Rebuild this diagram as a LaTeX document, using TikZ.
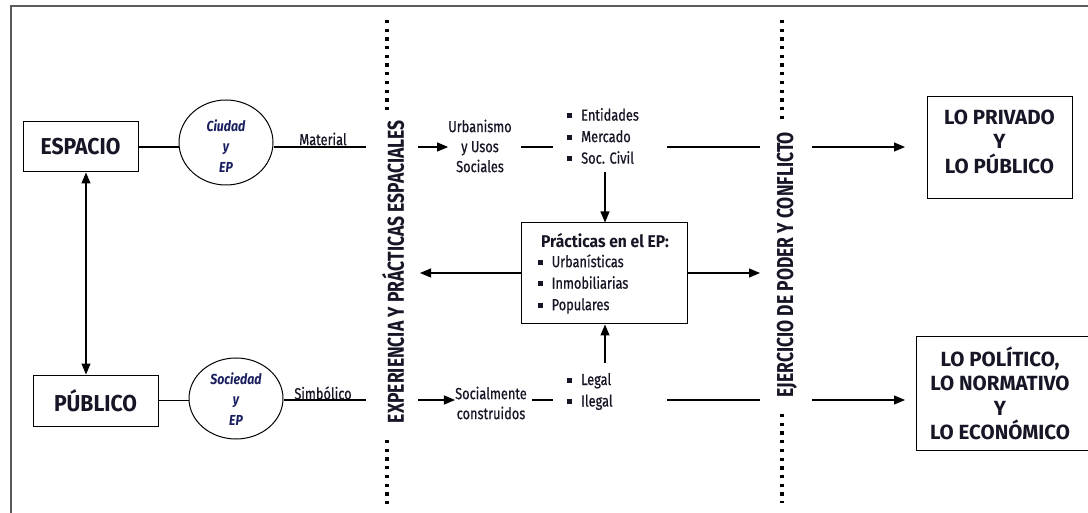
\documentclass[tikz,border=0pt]{standalone}
\usepackage{fontspec}
\setmainfont{Fira Sans}
\newfontfamily\fbig{Fira Sans}[FakeStretch=0.92]
\newfontfamily\fboxtxt{Fira Sans}[FakeStretch=1.0]
\newfontfamily\fsm{Fira Sans}[FakeStretch=0.8, FakeBold=0.6]
\newfontfamily\fit{Fira Sans}[FakeStretch=0.85]
\usetikzlibrary{arrows.meta,shapes.geometric}
\definecolor{ink}{RGB}{22,22,38}
\definecolor{navy}{RGB}{25,30,95}
\definecolor{framec}{RGB}{90,90,90}
\newcommand{\sqb}{\raisebox{2.5pt}{\rule{5pt}{5pt}}\hspace{9pt}}
\tikzset{
  box/.style={draw, line width=1pt, fill=white, inner sep=0},
  circ/.style={ellipse, draw, line width=1pt, inner sep=0},
  con/.style={line width=1.1pt},
  arr/.style={con, -{Triangle[length=11pt,width=9pt]}},
  darr/.style={con, {Triangle[length=11pt,width=9pt]}-{Triangle[length=11pt,width=9pt]}},
  dotline/.style={line width=3.3pt, dash pattern=on 3.3pt off 5.4pt},
  bigtxt/.style={font=\fbig\bfseries\fontsize{23}{23}\selectfont, text=ink},
  boxtxt/.style={font=\fboxtxt\bfseries\fontsize{20.5}{24.5}\selectfont, text=ink, align=center, inner sep=0},
  smalltxt/.style={font=\fsm\fontsize{16}{20}\selectfont, text=ink, inner sep=0},
  listtxt/.style={font=\fsm\fontsize{16}{21.5}\selectfont, text=ink, inner sep=0, align=left},
  circtxt/.style={font=\fit\bfseries\itshape\fontsize{14.5}{20.5}\selectfont, text=navy, align=center, inner sep=0},
  vtxt/.style={font=\fbig\bfseries\fontsize{23}{23}\selectfont, text=ink, rotate=90, inner sep=0},
}
\begin{document}
\begin{tikzpicture}[x=1pt,y=-1pt]
\useasboundingbox (0,0) rectangle (1088,513);
\clip (0,0) rectangle (1088,513);
% frame
\draw[framec, line width=1.4pt] (11,520) -- (11,6) -- (1095,6);

% left column
\node[box, minimum width=115pt, minimum height=50pt, bigtxt] (espacio) at (80.5,147) {ESPACIO};
\node[box, minimum width=125pt, minimum height=51pt, bigtxt] (publico) at (95.5,400.5) {PÚBLICO};
\coordinate (ax) at (86,0);
\draw[darr] (espacio.south -| ax) -- (publico.north -| ax);

\node[circ, minimum width=94pt, minimum height=85pt] (ciudad) at (226,142.5) {};
\node[circtxt] (ciudadt) at (226,146) {Ciudad\\y\\EP};
\node[circ, minimum width=94pt, minimum height=81pt] (sociedad) at (236,398.5) {};
\node[circtxt] (sociedadt) at (236,399) {Sociedad\\y\\EP};

\draw[con] (espacio.east) -- (espacio.east -| ciudad.west);
\draw[con] (publico.east) -- (publico.east -| sociedad.west);
\coordinate (m1) at (366,147);
\coordinate (m2) at (366,400);
\draw[con] (ciudad.east |- m1) -- (m1);
\draw[con] (sociedad.east |- m2) -- (m2);
\node[smalltxt] (material) at (323,139) {Material};
\node[smalltxt] (simbolico) at (323,393) {Simbólico};

% first divider
\coordinate (d1a) at (387,20);
\coordinate (d1b) at (387,110);
\coordinate (d1c) at (387,440);
\coordinate (d1d) at (387,505);
\draw[dotline] (d1a) -- (d1b);
\draw[dotline] (d1c) -- (d1d);
\node[vtxt] (exper) at (393,271.5) {\resizebox{303pt}{\height}{EXPERIENCIA Y PRÁCTICAS ESPACIALES}};

% second divider
\coordinate (d2a) at (782,20);
\coordinate (d2b) at (782,120);
\coordinate (d2c) at (782,414);
\coordinate (d2d) at (782,503);
\draw[dotline] (d2a) -- (d2b);
\draw[dotline] (d2c) -- (d2d);
\node[vtxt] (ejerc) at (787,264.5) {\resizebox{265pt}{\height}{EJERCICIO DE PODER Y CONFLICTO}};

% top row
\node[smalltxt, align=center] (urban) at (480,146) {Urbanismo\\y Usos\\Sociales};
\coordinate (a1) at (418,147);
\draw[arr] (a1) -- (a1 -| urban.west);
\coordinate (l1a) at (521,147);
\coordinate (l1b) at (553,147);
\draw[con] (l1a) -- (l1b);
\node[listtxt, anchor=west] (ent) at (567,136) {\sqb Entidades\\\sqb Mercado\\\sqb Soc. Civil};
\coordinate (r1a) at (667,147);
\coordinate (r1b) at (760,147);
\draw[con] (r1a) -- (r1b);

% practicas box
\node[box, minimum width=166pt, minimum height=101pt] (prac) at (604,273.5) {};
\node[font=\fbig\bfseries\fontsize{17}{17}\selectfont, text=ink, inner sep=0] (practit) at (605,241) {Prácticas en el EP:};
\node[listtxt, anchor=west] (praclist) at (537.5,284) {\sqb Urbanísticas\\\sqb Inmobiliarias\\\sqb Populares};
\coordinate (dv) at (605,172);
\draw[arr] (dv) -- (prac.north -| dv);
\coordinate (pl) at (420,273);
\coordinate (pr) at (760,273);
\draw[arr] (prac.west |- pl) -- (pl);
\draw[arr] (prac.east |- pr) -- (pr);

% bottom row
\node[smalltxt, align=center] (socc) at (491,403) {Socialmente\\construidos};
\coordinate (a2) at (418,400);
\draw[arr] (a2) -- (a2 -| socc.west);
\coordinate (l2a) at (532,400);
\coordinate (l2b) at (553,400);
\draw[con] (l2a) -- (l2b);
\node[listtxt, anchor=west] (legal) at (567,391.5) {\sqb Legal\\\sqb Ilegal};
\coordinate (up) at (605,363);
\draw[arr] (up) -- (prac.south -| up);
\coordinate (r2a) at (667,400);
\coordinate (r2b) at (760,400);
\draw[con] (r2a) -- (r2b);

% right column
\node[box, minimum width=145pt, minimum height=102pt] (privado) at (999.5,148) {};
\node[boxtxt] (privadot) at (999.5,141.5) {LO PRIVADO\\Y\\LO PÚBLICO};
\node[box, minimum width=180pt, minimum height=113pt] (politico) at (1006,393.5) {};
\node[boxtxt] (politicot) at (1000,393.5) {LO POLÍTICO,\\LO NORMATIVO\\Y\\LO ECONÓMICO};
\coordinate (o1) at (812,147);
\coordinate (o2) at (812,400);
\coordinate (t1) at (905,147);
\coordinate (t2) at (905,400);
\draw[arr] (o1) -- (t1);
\draw[arr] (o2) -- (t2);
\end{tikzpicture}
\end{document}
